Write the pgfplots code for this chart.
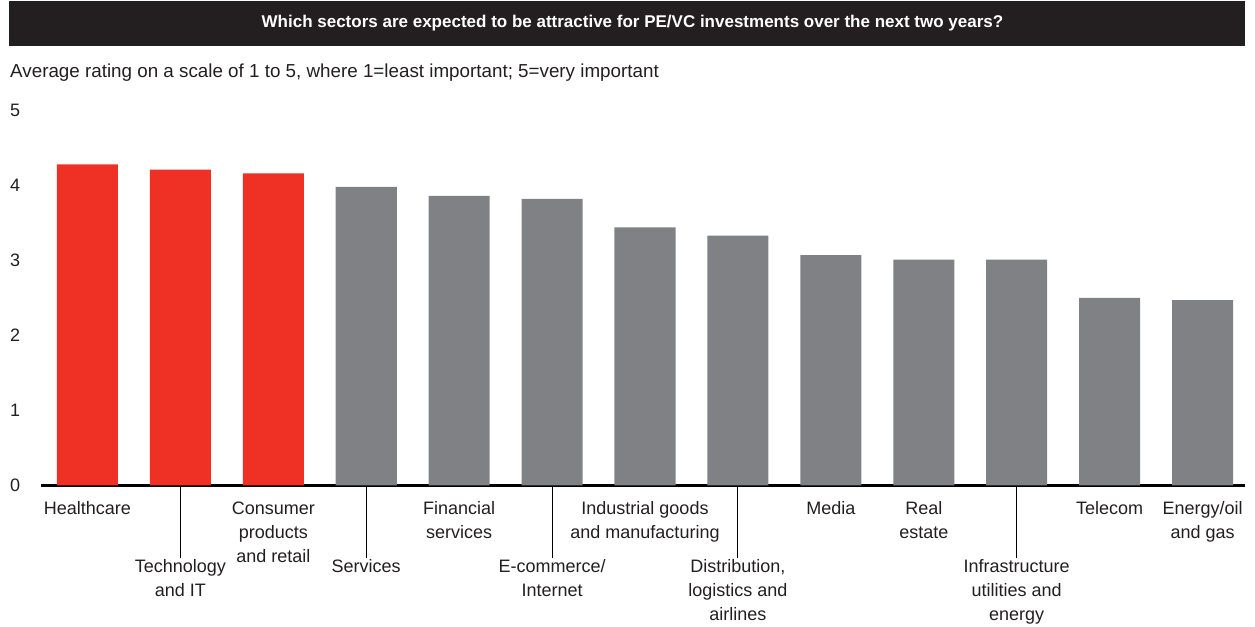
\documentclass[border=0pt]{standalone}
\usepackage{pgfplots}
\pgfplotsset{compat=1.18}
\usepackage{fontspec}
\setmainfont{Liberation Sans}
\definecolor{bainred}{HTML}{EE3124}
\definecolor{baingray}{HTML}{808184}
\definecolor{titlebar}{HTML}{231F20}
\definecolor{txt}{HTML}{231F20}
\begin{document}
\begin{tikzpicture}[x=1bp,y=1bp]
\path[use as bounding box] (0,0) rectangle (1255,627);
\fill[titlebar] (9,581) rectangle (1245,626);
\node[text=white, font=\fontsize{17bp}{20bp}\selectfont\bfseries, anchor=center] at (632.5,603.5) {Which sectors are expected to be attractive for PE/VC investments over the next two years?};
\node[text=txt, font=\fontsize{18.8bp}{22bp}\selectfont, anchor=base west, inner sep=0pt] at (10,549) {Average rating on a scale of 1 to 5, where 1=least important; 5=very important};
\begin{axis}[
  at={(41bp,141.5bp)}, anchor=south west,
  scale only axis, width=1204bp, height=375bp,
  xmin=-0.5, xmax=12.457, ymin=0, ymax=5,
  ybar, bar width=0.657, bar shift=0pt,
  axis x line*=bottom, axis y line*=left,
  x axis line style={line width=3.5bp, draw=black, -},
  y axis line style={draw=none},
  major tick length=0pt,
  ytick={0,1,2,3,4,5},
  /pgf/number format/assume math mode=true,
  yticklabel style={anchor=west, inner sep=0pt, xshift=-31bp, text=txt, font=\fontsize{18bp}{22bp}\selectfont},
  xtick={0,2,4,6,8,9,11,12},
  xticklabels={Healthcare, {Consumer\\products\\and retail}, {Financial\\services}, {Industrial goods\\and manufacturing}, Media, {Real\\estate}, Telecom, {Energy/oil\\and gas}},
  xticklabel style={align=center, anchor=north, inner sep=0pt, text=txt, font=\fontsize{18bp}{24bp}\selectfont, yshift=-16bp},
  extra x ticks={1,3,5,7,10},
  extra x tick labels={{Technology\\and IT}, Services, {E-commerce/\\Internet}, {Distribution,\\logistics and\\airlines}, {Infrastructure\\utilities and\\energy}},
  extra x tick style={major tick length=73bp, tick align=outside, tick style={line width=1bp, draw=black}, xticklabel style={yshift=15bp}},
  clip=false,
]
\addplot[fill=bainred, draw=none] coordinates {(0,4.28) (1,4.21) (2,4.16)};
\addplot[fill=baingray, draw=none] coordinates {(3,3.98) (4,3.86) (5,3.82) (6,3.44) (7,3.33) (8,3.07) (9,3.01) (10,3.01) (11,2.50) (12,2.47)};
\end{axis}
\end{tikzpicture}
\end{document}
